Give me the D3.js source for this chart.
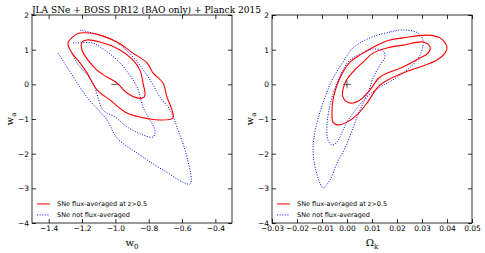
<!DOCTYPE html>
<html>
<head>
<meta charset="utf-8">
<script src="https://cdn.jsdelivr.net/npm/d3@7"></script>
<style>
  body { margin: 0; background: #fff; }
  text { fill: #000; }
</style>
</head>
<body>
<div id="chart"></div>
<script>
const title = 'JLA SNe + BOSS DR12 (BAO only) + Planck 2015';
const legendLabels = ['SNe flux-averaged at z>0.5', 'SNe not flux-averaged'];
const waTicks = [-4, -3, -2, -1, 0, 1, 2];
const w0Ticks = [-1.4, -1.2, -1.0, -0.8, -0.6, -0.4];
const okTicks = [-0.03, -0.02, -0.01, 0.00, 0.01, 0.02, 0.03, 0.04, 0.05];

// left panel, [w0, wa]
const w0FluxOuter = [[-1.284, 1.19], [-1.242, 1.42], [-1.212, 1.48], [-1.152, 1.48], [-1.092, 1.42],
  [-0.990, 1.22], [-0.894, 0.90], [-0.810, 0.62], [-0.774, 0.33], [-0.714, 0.04], [-0.690, -0.37],
  [-0.660, -0.74], [-0.654, -0.97], [-0.732, -1.03], [-0.792, -1.00], [-0.930, -0.83],
  [-1.032, -0.45], [-1.110, -0.16], [-1.170, 0.33], [-1.212, 0.62], [-1.260, 0.90]];
const w0FluxInner = [[-1.200, 1.22], [-1.170, 1.28], [-1.092, 1.22], [-0.972, 0.99], [-0.894, 0.70],
  [-0.852, 0.41], [-0.834, 0.04], [-0.822, -0.31], [-0.834, -0.39], [-0.870, -0.39], [-0.930, -0.25],
  [-0.990, 0.04], [-1.050, 0.21], [-1.110, 0.41], [-1.164, 0.70], [-1.200, 0.99]];
const w0PlainOuter = [[-1.212, 1.57], [-1.092, 1.42], [-1.014, 1.28], [-0.894, 0.79], [-0.792, 0.13],
  [-0.732, -0.37], [-0.672, -0.74], [-0.624, -1.32], [-0.570, -2.10], [-0.552, -2.87],
  [-0.714, -2.47], [-0.852, -2.04], [-0.990, -1.55], [-1.050, -1.03], [-1.170, -0.37],
  [-1.290, 0.50], [-1.344, 0.90]];
const w0PlainInner = [[-1.254, 1.19], [-1.134, 1.19], [-1.092, 1.08], [-0.972, 0.62], [-0.870, -0.08],
  [-0.834, -0.65], [-0.792, -1.03], [-0.762, -1.32], [-0.774, -1.52], [-0.834, -1.46],
  [-0.930, -1.23], [-1.002, -0.94], [-1.074, -0.74], [-1.134, 0.04], [-1.230, 0.62], [-1.254, 0.85]];

// right panel, [omega_k, wa]
const okFluxOuter = [[-0.0036, -1.17], [-0.0056, -1.09], [-0.006, -0.80], [-0.0056, -0.45],
  [-0.004, -0.02], [-0.0016, 0.36], [0.0012, 0.64], [0.0052, 0.85], [0.012, 1.13], [0.0172, 1.28],
  [0.0224, 1.34], [0.032, 1.42], [0.0372, 1.34], [0.040, 1.08], [0.0392, 0.90], [0.036, 0.70],
  [0.0292, 0.50], [0.0224, 0.33], [0.0132, -0.02], [0.008, -0.54], [0.004, -0.88], [0.0, -1.09]];
const okFluxInner = [[-0.0016, -0.37], [0.0012, -0.54], [0.0052, -0.45], [0.0092, -0.16],
  [0.0132, 0.21], [0.0224, 0.50], [0.0292, 0.76], [0.0324, 0.90], [0.0332, 1.08], [0.0304, 1.22],
  [0.0224, 1.13], [0.016, 1.05], [0.0104, 0.90], [0.0064, 0.64], [0.0024, 0.36], [-0.0008, 0.04]];
const okPlainOuter = [[0.0224, 1.57], [0.0172, 1.51], [0.0092, 1.34], [0.0024, 1.05], [-0.0016, 0.64],
  [-0.0056, 0.18], [-0.008, -0.22], [-0.0108, -0.80], [-0.0128, -1.37], [-0.0136, -1.89],
  [-0.0128, -2.38], [-0.0108, -2.85], [-0.0096, -2.99], [-0.0068, -2.76], [-0.004, -2.27],
  [-0.0008, -1.84], [0.0024, -1.26], [0.0052, -0.74], [0.008, -0.37], [0.0132, -0.08],
  [0.0184, 0.13], [0.024, 0.41], [0.028, 0.70], [0.030, 0.99], [0.0304, 1.28], [0.0284, 1.48]];
const okPlainInner = [[0.0112, 1.02], [0.008, 0.96], [0.0012, 0.70], [-0.002, 0.36], [-0.0048, -0.11],
  [-0.0068, -0.60], [-0.008, -1.17], [-0.0076, -1.61], [-0.006, -1.75], [-0.004, -1.66],
  [0.0, -1.09], [0.004, -0.68], [0.008, -0.31], [0.0104, 0.18], [0.0132, 0.56], [0.0152, 0.79],
  [0.0144, 0.96]];

const fiducialW0 = [-1, 0];
const fiducialOk = [0, 0];

const width = 485, height = 253;
const margin = {top: 15, bottom: 30};
const plotH = height - margin.top - margin.bottom;

const svg = d3.select('#chart').append('svg')
  .attr('width', width)
  .attr('height', height);

svg.append('text')
  .attr('x', 32)
  .attr('y', 12.5)
  .attr('font-family', 'DejaVu Serif')
  .attr('font-size', 10)
  .attr('textLength', 229)
  .attr('lengthAdjust', 'spacingAndGlyphs')
  .text(title);

const y = d3.scaleLinear().domain([-4, 2]).range([plotH, 0]);

function panel(left, xDomain, xTicks, xFmt, xLabel, xSub, contours, marker, plus) {
  const w = 200;
  const x = d3.scaleLinear().domain(xDomain).range([0, w]);
  const g = svg.append('g').attr('transform', `translate(${left},${margin.top})`);

  const tick = 4;
  const font = 'DejaVu Sans';
  const styleAxis = sel => {
    sel.select('.domain').remove();
    sel.selectAll('line').attr('stroke', '#000').attr('stroke-width', 0.8);
    sel.selectAll('text').attr('font-family', font).attr('font-size', 7.5).attr('fill', '#000');
  };

  g.append('g').attr('transform', `translate(0,${plotH})`)
    .call(d3.axisBottom(x).tickValues(xTicks).tickFormat(d3.format(xFmt)).tickSizeInner(-tick).tickSizeOuter(0).tickPadding(3))
    .call(styleAxis);
  g.append('g')
    .call(d3.axisTop(x).tickValues(xTicks).tickFormat('').tickSizeInner(-tick).tickSizeOuter(0))
    .call(styleAxis);
  g.append('g')
    .call(d3.axisLeft(y).tickValues(waTicks).tickFormat(d3.format('d')).tickSizeInner(-tick).tickSizeOuter(0).tickPadding(3))
    .call(styleAxis);
  g.append('g').attr('transform', `translate(${w},0)`)
    .call(d3.axisRight(y).tickValues(waTicks).tickFormat('').tickSizeInner(-tick).tickSizeOuter(0))
    .call(styleAxis);

  g.append('rect')
    .attr('width', w).attr('height', plotH)
    .attr('fill', 'none').attr('stroke', '#000').attr('stroke-width', 0.8);

  const marks = g.append('g');
  contours.forEach(c => {
    const line = d3.line()
      .x(d => x(d[0])).y(d => y(d[1]))
      .curve(c.closed ? d3.curveCatmullRomClosed : d3.curveCatmullRom);
    marks.append('path')
      .attr('d', line(c.data))
      .attr('fill', 'none')
      .attr('stroke', c.color)
      .attr('stroke-width', c.dotted ? 1 : 1.1)
      .attr('stroke-dasharray', c.dotted ? '1,1.6' : null);
  });

  // fiducial marker
  const mx = x(marker[0]), my = y(marker[1]);
  g.append('line').attr('x1', mx - 4).attr('x2', mx + 4).attr('y1', my).attr('y2', my)
    .attr('stroke', '#333').attr('stroke-width', 0.8);
  if (plus) {
    g.append('line').attr('x1', mx).attr('x2', mx).attr('y1', my - 4).attr('y2', my + 4)
      .attr('stroke', '#333').attr('stroke-width', 0.8);
  }

  // legend
  const leg = g.append('g').attr('transform', `translate(5,${y(-3.45)})`);
  [['red', false], ['blue', true]].forEach((s, i) => {
    leg.append('line').attr('x1', 0).attr('x2', 13).attr('y1', i * 11).attr('y2', i * 11)
      .attr('stroke', s[0]).attr('stroke-width', 1)
      .attr('stroke-dasharray', s[1] ? '1,1.6' : null);
    leg.append('text').attr('x', 20).attr('y', i * 11).attr('dy', '0.35em')
      .attr('font-family', font).attr('font-size', 6.5)
      .text(legendLabels[i]);
  });

  // axis labels
  const xl = g.append('text')
    .attr('x', w / 2).attr('y', plotH + 23)
    .attr('text-anchor', 'middle')
    .attr('font-family', 'DejaVu Serif').attr('font-size', 10);
  xl.append('tspan').text(xLabel);
  xl.append('tspan').attr('font-size', 7).attr('dy', 2.5).text(xSub);

  const yl = g.append('text')
    .attr('transform', `translate(-19,${plotH / 2}) rotate(-90)`)
    .attr('text-anchor', 'middle')
    .attr('font-family', 'DejaVu Serif').attr('font-size', 10);
  yl.append('tspan').text('w');
  yl.append('tspan').attr('font-size', 7).attr('dy', 2.5).text('a');
}

panel(32, [-1.5, -0.3], w0Ticks, '.1f', 'w', '0', [
  {data: w0PlainOuter, color: 'blue', dotted: true, closed: false},
  {data: w0PlainInner, color: 'blue', dotted: true, closed: false},
  {data: w0FluxOuter, color: 'red', dotted: false, closed: true},
  {data: w0FluxInner, color: 'red', dotted: false, closed: true}
], fiducialW0, false);

panel(272, [-0.03, 0.05], okTicks, '.2f', 'Ω', 'k', [
  {data: okPlainOuter, color: 'blue', dotted: true, closed: true},
  {data: okPlainInner, color: 'blue', dotted: true, closed: true},
  {data: okFluxOuter, color: 'red', dotted: false, closed: true},
  {data: okFluxInner, color: 'red', dotted: false, closed: true}
], fiducialOk, true);
</script>
</body>
</html>
